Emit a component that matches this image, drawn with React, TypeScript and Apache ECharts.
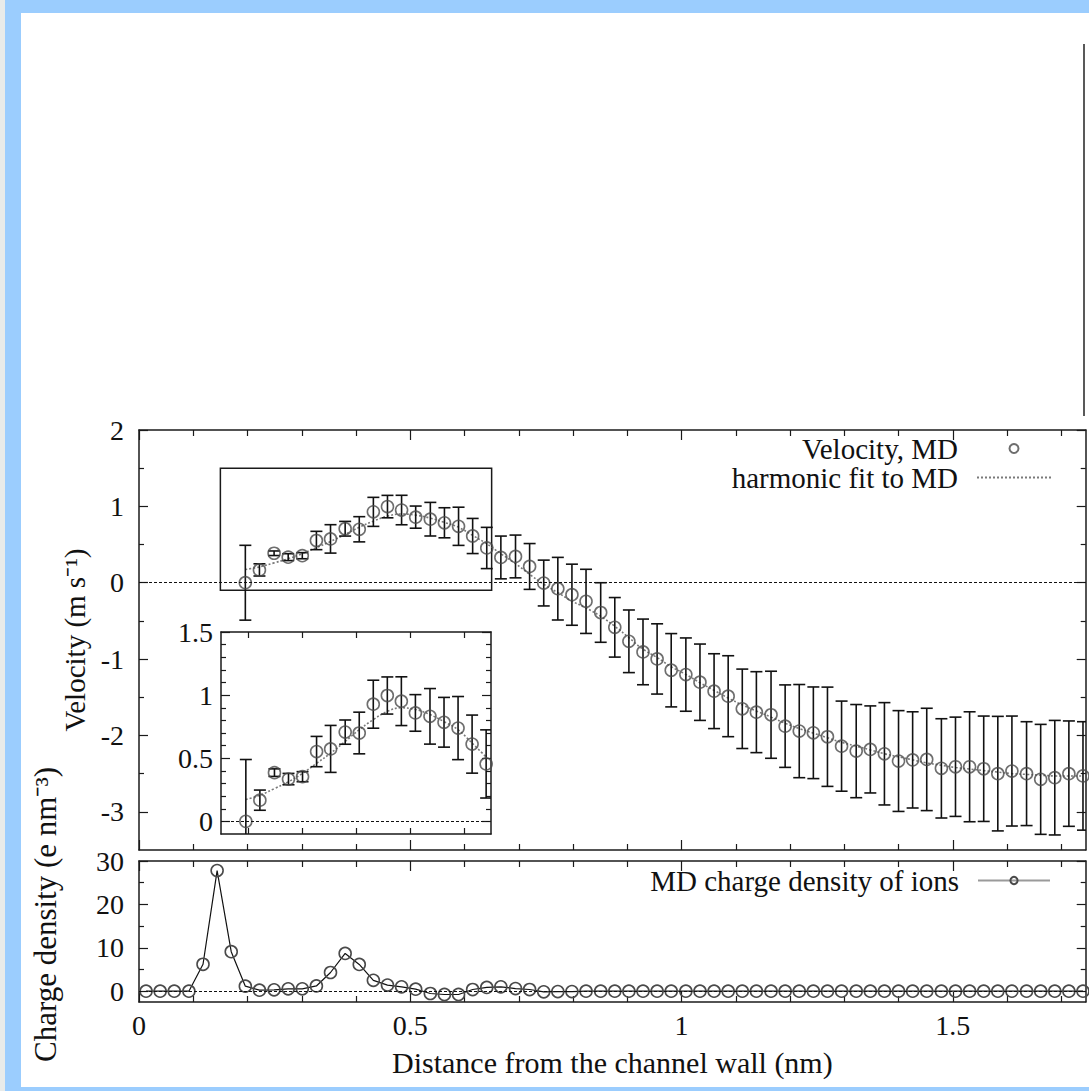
import React, { useEffect, useRef } from 'react';
import * as echarts from 'echarts';

// ---- data ----
const binCentres = [
  0.013, 0.039, 0.065, 0.092, 0.118, 0.144, 0.170, 0.196, 0.222, 0.249,
  0.275, 0.301, 0.327, 0.353, 0.380, 0.406, 0.432, 0.458, 0.484, 0.510,
  0.537, 0.563, 0.589, 0.615, 0.641, 0.667, 0.694, 0.720, 0.746, 0.772,
  0.798, 0.824, 0.851, 0.877, 0.903, 0.929, 0.955, 0.981, 1.008, 1.034,
  1.060, 1.086, 1.112, 1.138, 1.165, 1.191, 1.217, 1.243, 1.269, 1.295,
  1.322, 1.348, 1.374, 1.400, 1.426, 1.452, 1.479, 1.505, 1.531, 1.557,
  1.583, 1.609, 1.636, 1.662, 1.688, 1.714, 1.740,
];

const chargeDensity = [
  0, 0, 0, 0, 6.2, 27.8, 9.1, 1.15, 0.23, 0.3,
  0.54, 0.54, 1.2, 4.3, 8.7, 6.15, 2.5, 1.4, 1.0, 0.46,
  -0.54, -0.77, -0.77, 0.38, 0.85, 1.0, 0.6, 0.38, -0.15, -0.1,
  -0.1, 0, 0, 0, 0, 0, 0, 0, 0, 0,
  0, 0, 0, 0, 0, 0, 0, 0, 0, 0,
  0, 0, 0, 0, 0, 0, 0, 0, 0, 0,
  0, 0, 0, 0, 0, 0, 0,
];

const velocityFirstBin = 7;
const velocity = [
  0.0, 0.168, 0.386, 0.335, 0.354, 0.553, 0.574, 0.707, 0.70, 0.928,
  0.997, 0.952, 0.859, 0.832, 0.785, 0.739, 0.612, 0.455, 0.331, 0.344,
  0.213, -0.004, -0.078, -0.157, -0.244, -0.39, -0.584, -0.767, -0.906, -0.998,
  -1.146, -1.203, -1.303, -1.42, -1.486, -1.651, -1.695, -1.729, -1.878, -1.943,
  -1.965, -2.017, -2.14, -2.205, -2.183, -2.24, -2.335, -2.32, -2.314, -2.431,
  -2.41, -2.41, -2.436, -2.50, -2.466, -2.50, -2.575, -2.553, -2.50, -2.53,
];
const velocityErr = [
  0.49, 0.08, 0.03, 0.045, 0.04, 0.12, 0.186, 0.096, 0.165, 0.19,
  0.147, 0.193, 0.145, 0.22, 0.197, 0.25, 0.23, 0.27, 0.28, 0.28,
  0.30, 0.30, 0.41, 0.40, 0.42, 0.39, 0.39, 0.41, 0.43, 0.46,
  0.48, 0.48, 0.50, 0.49, 0.53, 0.52, 0.53, 0.57, 0.54, 0.61,
  0.60, 0.65, 0.59, 0.61, 0.57, 0.67, 0.66, 0.63, 0.67, 0.65,
  0.65, 0.72, 0.69, 0.75, 0.72, 0.68, 0.72, 0.75, 0.69, 0.71,
];
const harmonicFit = [
  0.173, 0.207, 0.26, 0.314, 0.38, 0.46, 0.54, 0.633, 0.726, 0.806,
  0.872, 0.90, 0.886, 0.846, 0.79, 0.726, 0.62, 0.51, 0.38, 0.25,
  0.11, -0.02, -0.13, -0.24, -0.33, -0.44, -0.57, -0.72, -0.87, -0.98,
  -1.10, -1.20, -1.31, -1.41, -1.51, -1.60, -1.68, -1.76, -1.84, -1.91,
  -1.97, -2.03, -2.09, -2.14, -2.19, -2.24, -2.28, -2.32, -2.36, -2.39,
  -2.42, -2.44, -2.46, -2.48, -2.50, -2.51, -2.52, -2.53, -2.53, -2.53,
];

const xRange = [0, 1.745];
const velocityRange = [-3.5, 2];
const chargeRange = [-2.5, 30];
const zoomX = [0.15, 0.65];
const zoomY = [-0.1, 1.5];

const xMajor = [0, 0.5, 1, 1.5];
const xMinor = [0.1, 0.2, 0.3, 0.4, 0.6, 0.7, 0.8, 0.9, 1.1, 1.2, 1.3, 1.4, 1.6, 1.7];
const velMajor = [-3, -2, -1, 0, 1, 2];
const velMinor = [-2.5, -1.5, -0.5, 0.5, 1.5];
const chargeMajor = [0, 10, 20, 30];
const chargeMinor = [5, 15, 25];
const insetXTicks = [0.2, 0.3, 0.4, 0.5, 0.6];
const insetYMajor = [0, 0.5, 1, 1.5];
const insetYMinor = [0.1, 0.2, 0.3, 0.4, 0.6, 0.7, 0.8, 0.9, 1.1, 1.2, 1.3, 1.4];

// ---- styling ----
const FONT = '"Liberation Serif", "Times New Roman", serif';
const FS = 28;
const FS_NAME = 29;
const INK = '#1a1a1a';
const MARK = '#4a4a4a';
const BLUE = '#9bcdfe';

type AxisOpts = {
  labels?: boolean;
  majorLen: number;
  minorLen: number;
  margin?: number;
  name?: string;
  nameGap?: number;
  namePadding?: number[];
  nameSize?: number;
};

function axisSet(dim: 'x' | 'y', gridIndex: number, range: number[], major: number[], minor: number[], o: AxisOpts) {
  const sides = dim === 'x' ? ['bottom', 'top'] : ['left', 'right'];
  const out: any[] = [];
  sides.forEach((pos, si) => {
    [major, minor].forEach((vals, mi) => {
      const primary = si === 0 && mi === 0;
      const ax: any = {
        type: 'value',
        gridIndex,
        position: pos,
        min: range[0],
        max: range[1],
        axisLine: { show: mi === 0, onZero: false, lineStyle: { color: INK, width: 1.5 } },
        axisTick: {
          show: true,
          inside: true,
          length: mi === 0 ? o.majorLen : o.minorLen,
          customValues: vals,
          lineStyle: { color: INK, width: 1.2 },
        },
        axisLabel: primary && o.labels
          ? { show: true, customValues: major, margin: o.margin ?? 10, fontFamily: FONT, fontSize: FS, color: '#111' }
          : { show: false },
        splitLine: { show: false },
        minorTick: { show: false },
      };
      if (primary && o.name) {
        ax.name = o.name;
        ax.nameLocation = 'middle';
        ax.nameGap = o.nameGap;
        ax.nameTextStyle = { fontFamily: FONT, fontSize: o.nameSize ?? FS_NAME, color: '#111', padding: o.namePadding };
      }
      out.push(ax);
    });
  });
  return out;
}

function errorBars(gridIdx: number, data: number[][], clip: boolean) {
  return {
    type: 'custom',
    xAxisIndex: gridIdx * 4,
    yAxisIndex: gridIdx * 4,
    clip,
    silent: true,
    encode: { x: 0, y: 1 },
    data,
    z: 3,
    renderItem: (_p: any, api: any) => {
      const x = api.value(0);
      const y = api.value(1);
      const e = api.value(2);
      const t = api.coord([x, y + e]);
      const b = api.coord([x, y - e]);
      const cap = 6;
      const st = { stroke: '#111', lineWidth: 1.6 };
      return {
        type: 'group',
        children: [
          { type: 'line', shape: { x1: t[0], y1: t[1], x2: b[0], y2: b[1] }, style: st },
          { type: 'line', shape: { x1: t[0] - cap, y1: t[1], x2: t[0] + cap, y2: t[1] }, style: st },
          { type: 'line', shape: { x1: b[0] - cap, y1: b[1], x2: b[0] + cap, y2: b[1] }, style: st },
        ],
      };
    },
  };
}

const zeroLine = {
  silent: true,
  symbol: ['none', 'none'],
  label: { show: false },
  lineStyle: { type: [3, 2], color: '#111', width: 1.2 },
  data: [{ yAxis: 0 }],
};

const legendText = {
  fontFamily: FONT,
  fontSize: FS_NAME,
  color: '#111',
  lineHeight: 29,
  padding: [0, 14, 0, 0],
};

export default function App() {
  const ref = useRef<HTMLDivElement>(null);

  useEffect(() => {
    if (!ref.current) return;
    const chart = echarts.init(ref.current, undefined, { renderer: 'svg' });

    const vx = velocity.map((_, k) => binCentres[k + velocityFirstBin]);
    const velPts = velocity.map((v, k) => [vx[k], v]);
    const errPts = velocity.map((v, k) => [vx[k], v, velocityErr[k]]);
    const fitPts = harmonicFit.map((v, k) => [vx[k], v]);
    const inZoom = (p: number[]) => p[0] >= zoomX[0] && p[0] <= zoomX[1];
    const chargePts = chargeDensity.map((v, i) => [binCentres[i], v]);

    const circleStyle = { color: 'rgba(0,0,0,0)', borderColor: MARK, borderWidth: 1.6 };

    const option: any = {
      animation: false,
      backgroundColor: '#ffffff',
      textStyle: { fontFamily: FONT },
      grid: [
        { left: 139, top: 430, width: 946.7, height: 420 },
        { left: 139, top: 861, width: 946.7, height: 141 },
        { left: 221, top: 632, width: 270, height: 202 },
      ],
      xAxis: [
        ...axisSet('x', 0, xRange, xMajor, xMinor, { majorLen: 10, minorLen: 6 }),
        ...axisSet('x', 1, xRange, xMajor, xMinor, {
          labels: true, majorLen: 10, minorLen: 6, margin: 9,
          name: 'Distance from the channel wall (nm)', nameGap: 45, nameSize: 30,
        }),
        ...axisSet('x', 2, zoomX, insetXTicks, [], { majorLen: 6, minorLen: 4 }),
      ],
      yAxis: [
        ...axisSet('y', 0, velocityRange, velMajor, velMinor, {
          labels: true, majorLen: 9, minorLen: 5, margin: 15,
          name: 'Velocity (m s\u207B\u00B9)', nameGap: 43,
        }),
        ...axisSet('y', 1, chargeRange, chargeMajor, chargeMinor, {
          labels: true, majorLen: 9, minorLen: 5, margin: 15,
          name: 'Charge density (e nm\u207B\u00B3)', nameGap: 78, namePadding: [0, 0, 0, 34], nameSize: 31,
        }),
        ...axisSet('y', 2, zoomY, insetYMajor, insetYMinor, {
          labels: true, majorLen: 9, minorLen: 5, margin: 8,
        }),
      ],
      legend: [
        {
          data: [
            { name: 'Velocity, MD' },
            { name: 'harmonic fit to MD', itemStyle: { opacity: 0 } },
          ],
          orient: 'vertical',
          right: 32,
          top: 429,
          align: 'right',
          itemWidth: 74,
          itemHeight: 9,
          itemGap: 0,
          selectedMode: false,
          textStyle: legendText,
        },
        {
          data: ['MD charge density of ions'],
          orient: 'vertical',
          right: 33,
          top: 861,
          align: 'right',
          itemWidth: 72,
          itemHeight: 9,
          selectedMode: false,
          lineStyle: { color: '#9a9a9a', width: 2 },
          textStyle: legendText,
        },
      ],
      series: [
        // upper panel
        {
          name: 'harmonic fit to MD',
          type: 'line',
          xAxisIndex: 0,
          yAxisIndex: 0,
          data: fitPts,
          smooth: 0.4,
          showSymbol: false,
          symbol: 'none',
          silent: true,
          lineStyle: { type: [2, 2], color: '#7a7a7a', width: 1.6 },
          itemStyle: { color: '#7a7a7a' },
          markLine: zeroLine,
          z: 2,
        },
        errorBars(0, errPts, true),
        {
          name: 'Velocity, MD',
          type: 'scatter',
          xAxisIndex: 0,
          yAxisIndex: 0,
          data: velPts,
          symbol: 'circle',
          symbolSize: 12,
          itemStyle: circleStyle,
          silent: true,
          z: 4,
          markArea: {
            silent: true,
            itemStyle: { color: 'rgba(0,0,0,0)', borderColor: INK, borderWidth: 1.5 },
            data: [[{ coord: [zoomX[0], zoomY[1]] }, { coord: [zoomX[1], zoomY[0]] }]],
          },
        },
        // inset
        {
          name: 'harmonic fit to MD',
          type: 'line',
          xAxisIndex: 8,
          yAxisIndex: 8,
          data: fitPts.filter(inZoom),
          smooth: 0.4,
          showSymbol: false,
          symbol: 'none',
          silent: true,
          lineStyle: { type: [2, 2], color: '#7a7a7a', width: 1.6 },
          markLine: zeroLine,
          z: 2,
        },
        errorBars(2, errPts.filter(inZoom), true),
        {
          name: 'Velocity, MD',
          type: 'scatter',
          xAxisIndex: 8,
          yAxisIndex: 8,
          data: velPts.filter(inZoom),
          symbol: 'circle',
          symbolSize: 12,
          itemStyle: circleStyle,
          silent: true,
          z: 4,
        },
        // lower panel
        {
          name: 'MD charge density of ions',
          type: 'line',
          xAxisIndex: 4,
          yAxisIndex: 4,
          data: chargePts,
          symbol: 'circle',
          symbolSize: 12,
          showAllSymbol: true,
          silent: true,
          lineStyle: { color: '#111', width: 1.2 },
          itemStyle: circleStyle,
          markLine: zeroLine,
        },
      ],
      graphic: [
        { type: 'rect', silent: true, z: -10, shape: { x: 0, y: 0, width: 5, height: 1091 }, style: { fill: '#e8ebea' } },
        { type: 'rect', silent: true, z: -10, shape: { x: 5, y: 0, width: 16, height: 1091 }, style: { fill: BLUE } },
        { type: 'rect', silent: true, z: -10, shape: { x: 5, y: 0, width: 1084, height: 13 }, style: { fill: BLUE } },
        { type: 'rect', silent: true, z: -10, shape: { x: 5, y: 1087, width: 1084, height: 4 }, style: { fill: BLUE } },
        { type: 'line', silent: true, shape: { x1: 1084, y1: 44, x2: 1084, y2: 416 }, style: { stroke: '#222', lineWidth: 1.5 } },
      ],
    };

    chart.setOption(option);
    return () => chart.dispose();
  }, []);

  return (
    <div
      ref={ref}
      style={{ position: 'fixed', left: 0, top: 0, width: 1089, height: 1091, background: '#fff' }}
    />
  );
}
